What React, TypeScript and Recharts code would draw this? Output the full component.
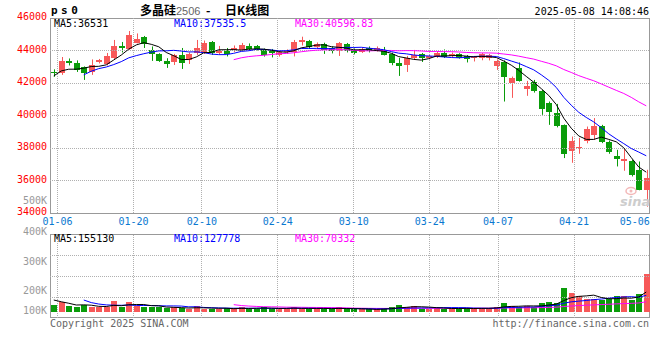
import React from 'react';
import { ComposedChart, Bar, Line, XAxis, YAxis, ReferenceLine } from 'recharts';

const DATES = [
  '01-03','01-06','01-07','01-08','01-09','01-10','01-13','01-14','01-15','01-16',
  '01-17','01-20','01-21','01-22','01-23','01-24','01-27','02-05','02-06','02-07',
  '02-10','02-11','02-12','02-13','02-14','02-17','02-18','02-19','02-20','02-21',
  '02-24','02-25','02-26','02-27','02-28','03-03','03-04','03-05','03-06','03-07',
  '03-10','03-11','03-12','03-13','03-14','03-17','03-18','03-19','03-20','03-21',
  '03-24','03-25','03-26','03-27','03-28','03-31','04-01','04-02','04-03','04-07',
  '04-08','04-09','04-10','04-11','04-14','04-15','04-16','04-17','04-18','04-21',
  '04-22','04-23','04-24','04-25','04-28','04-29','04-30','05-06','05-07','05-08',
];

const OPEN = [
  42680,42590,43360,43235,42990,42650,43300,43175,43510,44280,
  44095,44480,44850,44035,43770,43360,43300,43695,43390,43820,
  43910,44525,43830,43975,44035,44035,44300,44280,44065,43975,
  43710,43880,43880,44495,44585,44190,44385,44155,43975,44405,
  44035,43910,44125,44005,43975,43805,43255,43110,43540,43755,
  43540,43605,43870,43665,43770,43665,43510,43525,43540,43020,
  43315,41990,42930,41640,42085,41515,40780,40180,39425,37785,
  37995,38445,38810,39365,38400,37520,37215,37215,36660,35430,
];
const HIGH = [
  42840,43600,43510,43390,43020,43450,43480,43850,44650,44525,
  45200,45050,44895,44250,43830,43525,43790,44155,43880,44650,
  44615,44585,44280,44155,44310,44465,44435,44340,44125,44095,
  43955,44065,44650,44850,44650,44495,44480,44250,44525,44465,
  44125,44155,44250,44250,44220,43870,43545,43665,44035,43850,
  43755,43910,44065,43880,43830,43725,43665,43850,43790,43450,
  43390,42395,43265,42130,42190,41575,40860,40715,39450,38705,
  38625,39320,39840,39425,38460,37890,37995,37275,37170,36660,
];
const LOW = [
  42380,42500,43080,42680,42190,42500,43205,43080,43450,43880,
  44035,44435,44155,43360,43300,42930,43110,42865,43170,43730,
  43790,43725,43770,43635,43910,43975,44035,44005,43625,43575,
  43625,43790,43635,44310,44095,44125,43790,43820,43665,43880,
  43760,43850,43880,43940,43695,43095,42435,42680,43465,43295,
  43450,43540,43540,43605,43500,43265,43325,43400,43390,42805,
  40860,41085,42085,41210,41410,40040,39425,39270,37380,37090,
  37645,38290,38505,38300,37645,36865,36600,36250,35400,34390,
];
const CLOSE = [
  42590,43360,43205,42775,42620,43110,43420,43665,44280,44125,
  44935,44710,44370,43760,43375,43175,43710,43205,43760,44155,
  44485,43830,43990,43790,44175,44340,44115,44065,43725,43830,
  43910,43940,44525,44620,44190,44385,44035,43940,44435,43940,
  43850,44065,43975,44155,43725,43215,43050,43560,43710,43510,
  43665,43830,43605,43805,43560,43465,43605,43755,43695,43325,
  42395,42315,42150,41840,41535,40425,40225,39365,37625,38445,
  38045,39160,39365,38340,37735,37305,37320,36355,35430,36150,
];
const VOLUME = [
  52000,78000,46000,38000,52000,38000,33000,38000,84000,38000,
  76000,44000,38000,38000,33000,25000,33000,25000,23000,44000,
  23000,23000,17000,25000,25000,33000,23000,23000,33000,23000,
  23000,23000,33000,23000,23000,23000,23000,23000,33000,17000,
  17000,17000,17000,17000,26000,35000,52000,36000,44000,23000,
  23000,28000,23000,23000,23000,28000,23000,28000,28000,36000,
  68000,44000,33000,44000,33000,70000,78000,70000,185000,150000,
  122000,97000,100000,92000,100000,124000,124000,92000,140000,300000,
];
// sessions before the visible window (listing 12-26 .. 01-02), used only for the moving averages
const PRIOR_CLOSE = [40900, 41820, 42680, 42770, 42320];
const PRIOR_VOLUME = [246000, 148000, 106000, 108000, 46000];

const PRICE_TICKS = [34000, 36000, 38000, 40000, 42000, 44000, 46000];
const PRICE_GRID = [36000, 38000, 40000, 42000, 44000];
const DATE_TICKS = ['01-06', '01-20', '02-10', '02-24', '03-10', '03-24', '04-07', '04-21', '05-06'];
const DATE_GRID = ['01-06', '01-20', '02-10', '02-24', '03-10', '03-24', '04-07', '04-21'];
const VOL_GRID = [116000, 284000, 452000];
const VOL_LABELS = ['400K', '300K', '200K', '100K'];
const PRICE_LEGEND = ['MA5:36531', 'MA10:37535.5', 'MA30:40596.83'];
const VOL_LEGEND = ['MA5:155130', 'MA10:127778', 'MA30:70332'];

const RED = '#f75858';
const GREEN = '#0a9c0a';
const BLUE_TXT = '#0a78d0';
const GRID = '#b0b0b0';
const MONO = "'DejaVu Sans Mono', monospace";
const CJK = "'Noto Sans CJK SC', sans-serif";

function movingAvg(values: number[], prior: number[], n: number): (number | null)[] {
  const all = [...prior, ...values];
  return values.map((_, i) => {
    const end = prior.length + i;
    if (end + 1 < n) return null;
    let s = 0;
    for (let k = end - n + 1; k <= end; k++) s += all[k];
    return s / n;
  });
}

const ma5 = movingAvg(CLOSE, PRIOR_CLOSE, 5);
const ma10 = movingAvg(CLOSE, PRIOR_CLOSE, 10);
const ma30 = movingAvg(CLOSE, PRIOR_CLOSE, 30);
const vma5 = movingAvg(VOLUME, PRIOR_VOLUME, 5);
const vma10 = movingAvg(VOLUME, PRIOR_VOLUME, 10);
const vma30 = movingAvg(VOLUME, PRIOR_VOLUME, 30);

const rows = DATES.map((date, i) => ({
  idx: i,
  date,
  open: OPEN[i],
  high: HIGH[i],
  low: LOW[i],
  close: CLOSE[i],
  range: [LOW[i], HIGH[i]],
  vol: VOLUME[i],
  ma5: ma5[i],
  ma10: ma10[i],
  ma30: ma30[i],
  vma5: vma5[i],
  vma10: vma10[i],
  vma30: vma30[i],
}));

function Candle(props: any) {
  const { x, y, width, height, payload } = props;
  if (!payload) return null;
  const { open, close, high, low } = payload;
  const top = Math.min(y, y + height);
  const h = Math.abs(height);
  const span = high - low || 1;
  const py = (p: number) => top + ((high - p) / span) * h;
  const color = close >= open ? RED : GREEN;
  const cx = Math.round(x + width / 2) + 0.5;
  const yO = py(open);
  const yC = py(close);
  const bTop = Math.min(yO, yC);
  const bH = Math.max(1, Math.abs(yO - yC));
  return (
    <g>
      <line x1={cx} x2={cx} y1={top} y2={top + h} stroke={color} strokeWidth={1} />
      <rect x={x} y={bTop} width={width} height={bH} fill={color} shapeRendering="crispEdges" />
    </g>
  );
}

function VolBar(props: any) {
  const { x, y, width, height, payload } = props;
  if (!payload) return null;
  const color = payload.close >= payload.open ? RED : GREEN;
  return (
    <rect x={x} y={Math.min(y, y + height)} width={width} height={Math.abs(height)} fill={color} shapeRendering="crispEdges" />
  );
}

function PriceTick(props: any) {
  const { x, y, payload } = props;
  return (
    <text x={x} y={y + 2} textAnchor="end" fontFamily={MONO} fontSize={10} fill="#f00">
      {payload.value}
    </text>
  );
}

function DateTick(props: any) {
  const { x, y, payload } = props;
  return (
    <text x={x} y={y + 12} textAnchor="middle" fontFamily={MONO} fontSize={10} fill={BLUE_TXT}>
      {DATES[payload.value]}
    </text>
  );
}

const frame = (left: number, top: number, width: number, height: number): React.CSSProperties => ({
  position: 'absolute',
  left,
  top,
  width,
  height,
  border: '1px solid #999',
  boxSizing: 'border-box',
});

export default function App() {
  return (
    <div style={{ position: 'absolute', left: 0, top: 0, width: 660, height: 360, background: '#fff', overflow: 'hidden' }}>
      <div style={frame(50, 18, 600, 196)} />
      <div style={frame(50, 234, 600, 84)} />

      <div style={{ position: 'absolute', left: 0, top: 0 }}>
        <ComposedChart width={660} height={360} data={rows} margin={{ top: 18, right: 10, bottom: 128, left: 0 }}>
          <XAxis xAxisId="main" dataKey="date" type="category" hide />
          <XAxis
            xAxisId="grid"
            dataKey="idx"
            type="number"
            domain={[0, DATES.length - 1]}
            allowDataOverflow
            ticks={DATE_TICKS.map((d) => DATES.indexOf(d))}
            interval={0}
            height={19}
            axisLine={false}
            tickLine={false}
            tickSize={0}
            tickMargin={0}
            tick={<DateTick />}
          />
          <YAxis
            type="number"
            domain={[34000, 46000]}
            allowDataOverflow
            ticks={PRICE_TICKS}
            interval={0}
            width={50}
            axisLine={false}
            tickLine={false}
            tickSize={0}
            tickMargin={3}
            tick={<PriceTick />}
          />
          {PRICE_GRID.map((p) => (
            <ReferenceLine key={'h' + p} y={p} xAxisId="grid" stroke={GRID} strokeDasharray="1 1" shapeRendering="crispEdges" />
          ))}
          {DATE_GRID.map((d) => (
            <ReferenceLine key={'v' + d} x={DATES.indexOf(d)} xAxisId="grid" stroke={GRID} strokeDasharray="1 1" shapeRendering="crispEdges" />
          ))}
          <Bar xAxisId="main" dataKey="range" barSize={6} shape={<Candle />} isAnimationActive={false} />
          <Line xAxisId="main" dataKey="ma30" stroke="#ff00ff" strokeWidth={1} dot={false} activeDot={false} isAnimationActive={false} />
          <Line xAxisId="main" dataKey="ma10" stroke="#0000ff" strokeWidth={1} dot={false} activeDot={false} isAnimationActive={false} />
          <Line xAxisId="main" dataKey="ma5" stroke="#000" strokeWidth={1} dot={false} activeDot={false} isAnimationActive={false} />
        </ComposedChart>
      </div>

      <div style={{ position: 'absolute', left: 0, top: 0 }}>
        <ComposedChart width={660} height={360} data={rows} margin={{ top: 234, right: 10, bottom: 42, left: 50 }}>
          <XAxis xAxisId="main" dataKey="date" type="category" hide />
          <XAxis xAxisId="grid" dataKey="idx" type="number" domain={[0, DATES.length - 1]} allowDataOverflow hide />
          <YAxis type="number" domain={[-52000, 620000]} allowDataOverflow hide />
          {VOL_GRID.map((v) => (
            <ReferenceLine key={'vh' + v} y={v} xAxisId="grid" stroke={GRID} strokeDasharray="1 1" shapeRendering="crispEdges" />
          ))}
          {DATE_GRID.map((d) => (
            <ReferenceLine key={'vv' + d} x={DATES.indexOf(d)} xAxisId="grid" stroke={GRID} strokeDasharray="1 1" shapeRendering="crispEdges" />
          ))}
          <Bar xAxisId="main" dataKey="vol" barSize={6} shape={<VolBar />} isAnimationActive={false} />
          <Line xAxisId="main" dataKey="vma30" stroke="#ff00ff" strokeWidth={1} dot={false} activeDot={false} isAnimationActive={false} />
          <Line xAxisId="main" dataKey="vma10" stroke="#0000ff" strokeWidth={1} dot={false} activeDot={false} isAnimationActive={false} />
          <Line xAxisId="main" dataKey="vma5" stroke="#000" strokeWidth={1} dot={false} activeDot={false} isAnimationActive={false} />
        </ComposedChart>
      </div>

      <svg width={660} height={360} style={{ position: 'absolute', left: 0, top: 0, pointerEvents: 'none' }}>
        <text x={51} y={14} fontFamily={MONO} fontWeight="bold" fontSize={11} letterSpacing={3.5} fill="#000">ps0</text>
        <text x={140} y={14.5} fontFamily={CJK} fontWeight="bold" fontSize={12} fill="#000">多晶硅</text>
        <text x={176} y={14.5} fontFamily="'Liberation Sans', sans-serif" fontSize={11} fill="#666">2506</text>
        <text x={206} y={14.5} fontFamily={CJK} fontWeight="bold" fontSize={12} fill="#000">-</text>
        <text x={225} y={14.5} fontFamily={CJK} fontWeight="bold" fontSize={12} fill="#000">日K线图</text>
        <text x={649} y={14.5} textAnchor="end" fontFamily={MONO} fontSize={10} fill="#000">2025-05-08 14:08:46</text>

        <text x={54} y={27} fontFamily={MONO} fontSize={10} fill="#000">{PRICE_LEGEND[0]}</text>
        <text x={174} y={27} fontFamily={MONO} fontSize={10} fill="#0000ff">{PRICE_LEGEND[1]}</text>
        <text x={295} y={27} fontFamily={MONO} fontSize={10} fill="#ff00ff">{PRICE_LEGEND[2]}</text>

        <text x={47} y={204} textAnchor="end" fontFamily={MONO} fontSize={10} fill="#999">500K</text>
        <text x={47} y={234.5} textAnchor="end" fontFamily={MONO} fontSize={10} fill="#999">{VOL_LABELS[0]}</text>
        <text x={47} y={264.5} textAnchor="end" fontFamily={MONO} fontSize={10} fill="#999">{VOL_LABELS[1]}</text>
        <text x={47} y={293.5} textAnchor="end" fontFamily={MONO} fontSize={10} fill="#999">{VOL_LABELS[2]}</text>
        <text x={47} y={313.5} textAnchor="end" fontFamily={MONO} fontSize={10} fill="#999">{VOL_LABELS[3]}</text>

        <text x={54} y={241.5} fontFamily={MONO} fontSize={10} fill="#000">{VOL_LEGEND[0]}</text>
        <text x={174} y={241.5} fontFamily={MONO} fontSize={10} fill="#0000ff">{VOL_LEGEND[1]}</text>
        <text x={295} y={241.5} fontFamily={MONO} fontSize={10} fill="#ff00ff">{VOL_LEGEND[2]}</text>

        <text x={50} y={327} fontFamily={MONO} fontSize={10} fill="#666">Copyright 2025 SINA.COM</text>
        <text x={649} y={327} textAnchor="end" fontFamily={MONO} fontSize={10} fill="#666">http://finance.sina.com.cn</text>

        <ellipse cx={631} cy={191} rx={5} ry={3.5} fill="none" stroke="#f3b8b8" strokeWidth={1.5} />
        <circle cx={631} cy={191} r={1.5} fill="#f3b8b8" />
        <text x={620} y={206} fontFamily="'DejaVu Sans', sans-serif" fontStyle="italic" fontWeight="bold" fontSize={13} fill="#cdcdcd">sina</text>
      </svg>
    </div>
  );
}
